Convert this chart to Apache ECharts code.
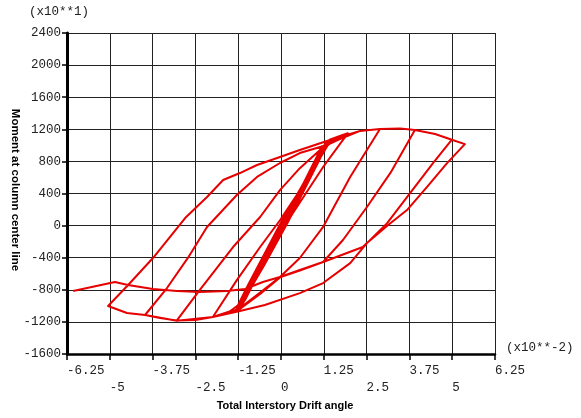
<!DOCTYPE html>
<html>
<head>
<meta charset="utf-8">
<script src="https://cdn.jsdelivr.net/npm/echarts@6/dist/echarts.min.js"></script>
<style>
  html, body { margin: 0; padding: 0; background: #fff; }
  #chart { width: 581px; height: 418px; }
</style>
</head>
<body>
<div id="chart"></div>
<script>
// Drift angle (x10^-2) and moment (x10^1) along the loading history, split by cycle.
const elasticCycles = [
  [0, 0], [0.6, 480], [1.2, 990], [0.9, 700], [0.05, 0], [-0.6, -520], [-1.15, -990],
  [-0.85, -700], [0.0, -30], [0.65, 500], [1.3, 1030], [1.0, 760], [0.1, 0],
  [-0.65, -560], [-1.3, -1030], [-0.95, -730], [-0.05, 0], [0.7, 560], [1.35, 1050],
  [1.05, 780], [0.15, 20], [-0.55, -520], [-1.2, -1040], [-0.9, -760], [0.05, 30],
  [0.75, 580], [1.4, 1060], [1.1, 800], [0.2, 40], [-0.5, -500], [-1.25, -1050],
  [-1.0, -820], [-0.1, -60], [0.7, 540], [1.42, 1070]
];
const cycle2 = [
  [1.42, 1070], [1.7, 1115], [1.95, 1150], [1.23, 730], [0.35, 157], [-0.32, -304],
  [-1.05, -927], [-1.5, -1070], [-1.99, -1139], [-1.29, -680], [-0.61, -267],
  [-0.03, 67], [0.85, 630], [1.37, 1003], [1.6, 1085], [2.31, 1180], [2.89, 1203]
];
const cycle3 = [
  [2.89, 1203], [2.02, 605], [1.23, -17], [0.55, -404], [-0.03, -640], [-0.6, -830],
  [-1.2, -1028], [-1.55, -1090], [-1.99, -1139], [-2.5, -1176], [-3.04, -1182],
  [-2.37, -802], [-1.4, -267], [-0.61, 107], [-0.03, 443], [0.55, 716], [1.14, 941],
  [1.49, 1067], [2.31, 1180], [2.89, 1203], [3.48, 1210], [3.91, 1191]
];
const cycle4 = [
  [3.91, 1191], [3.2, 660], [2.51, 232], [1.81, -179], [1.23, -454], [0.55, -560],
  [-0.03, -645], [-0.6, -850], [-1.2, -1040], [-1.6, -1100], [-1.99, -1139],
  [-2.5, -1176], [-3.04, -1182], [-3.53, -1151], [-3.97, -1114], [-3.33, -778],
  [-2.72, -403], [-2.16, -17], [-1.29, 381], [-0.7, 606], [-0.03, 780], [0.55, 904],
  [1.34, 1004], [1.72, 1079], [2.31, 1180], [2.89, 1203], [3.48, 1210], [3.91, 1191],
  [4.5, 1141], [4.99, 1070]
];
const cycle5 = [
  [4.99, 1070], [4.44, 779], [3.77, 405], [3.1, 31], [2.51, -218], [2.02, -467],
  [1.23, -716], [0.55, -841], [-0.47, -989], [-1.2, -1064], [-1.99, -1139],
  [-3.04, -1185], [-3.97, -1114], [-4.5, -1089], [-5.05, -1002], [-4.41, -716],
  [-3.74, -404], [-2.8, 94], [-2.16, 356], [-1.69, 568], [-1.2, 655], [-0.7, 755],
  [-0.03, 855], [0.55, 942], [1.43, 1067], [2.31, 1180], [2.89, 1203], [3.48, 1210],
  [3.91, 1191], [4.5, 1141], [4.99, 1070], [5.37, 1015]
];
const cycle6 = [
  [5.37, 1015], [4.85, 779], [4.26, 480], [3.68, 194], [3.13, 7], [2.51, -218],
  [2.39, -267], [1.23, -454], [0.55, -554], [-0.03, -640], [-0.53, -703],
  [-1.05, -790], [-1.58, -815], [-2.37, -827], [-3.04, -815], [-3.74, -790],
  [-4.47, -740], [-4.85, -703], [-6.07, -815]
];

const xTickText = ['-6.25', '-5', '-3.75', '-2.5', '-1.25', '0', '1.25', '2.5', '3.75', '5', '6.25'];
const xMin = -6.25, xMax = 6.25, xStep = 1.25;
const yMin = -1600, yMax = 2400, yStep = 400;

// One continuous path through every cycle (joints are not repeated).
const history = [elasticCycles, cycle2, cycle3, cycle4, cycle5, cycle6]
  .reduce((acc, seg, i) => acc.concat(i === 0 ? seg : seg.slice(1)), []);

const mono = 'Liberation Mono';
const sans = 'Liberation Sans';

const chart = echarts.init(document.getElementById('chart'), null, { renderer: 'canvas' });
chart.setOption({
  animation: false,
  backgroundColor: '#ffffff',
  grid: { left: 67, right: 86, top: 33, bottom: 64, containLabel: false },
  xAxis: {
    type: 'value', min: xMin, max: xMax, interval: xStep,
    axisLine: { onZero: false, lineStyle: { color: '#000', width: 2.5 } },
    axisTick: { show: true, length: 6, lineStyle: { color: '#000', width: 1.5 } },
    splitLine: { show: true, lineStyle: { color: '#222', width: 1 } },
    axisLabel: {
      margin: 10, align: 'left', fontFamily: mono, fontSize: 12.5, color: '#222',
      formatter: function (v) {
        const i = Math.round((v - xMin) / xStep);
        const t = xTickText[i];
        return i % 2 === 0 ? '{r1|' + t + '}' : '{r2|' + t + '}';
      },
      rich: {
        r1: { fontFamily: mono, fontSize: 12.5, color: '#222' },
        r2: { fontFamily: mono, fontSize: 12.5, color: '#222', padding: [17, 0, 0, 0] }
      }
    }
  },
  yAxis: {
    type: 'value', min: yMin, max: yMax, interval: yStep,
    axisLine: { onZero: false, lineStyle: { color: '#000', width: 3 } },
    axisTick: { show: true, length: 5, lineStyle: { color: '#000', width: 1.5 } },
    splitLine: { show: true, lineStyle: { color: '#222', width: 1 } },
    axisLabel: {
      margin: 6, fontFamily: mono, fontSize: 12.5, color: '#222',
      padding: [0, 0, 5, 0],
      formatter: function (v) { return String(v); }
    }
  },
  graphic: [
    { type: 'text', left: 29, top: 5,
      style: { text: '(x10**1)', fontFamily: mono, fontSize: 12.5, fill: '#222' } },
    { type: 'text', left: 506, top: 341,
      style: { text: '(x10**-2)', fontFamily: mono, fontSize: 12.5, fill: '#222' } },
    { type: 'text', x: 15, y: 190, rotation: -Math.PI / 2,
      style: { text: 'Moment at column center line', fontFamily: sans, fontWeight: 'bold',
               fontSize: 11.5, fill: '#000', align: 'center', verticalAlign: 'middle' } },
    { type: 'text', x: 285, y: 406,
      style: { text: 'Total Interstory Drift angle', fontFamily: sans, fontWeight: 'bold',
               fontSize: 11, fill: '#000', align: 'center', verticalAlign: 'middle' } }
  ],
  series: [{
    type: 'line',
    data: history,
    showSymbol: false,
    symbol: 'none',
    smooth: false,
    clip: true,
    lineStyle: { color: '#e60000', width: 2, join: 'round' },
    z: 3
  }]
});
</script>
</body>
</html>
